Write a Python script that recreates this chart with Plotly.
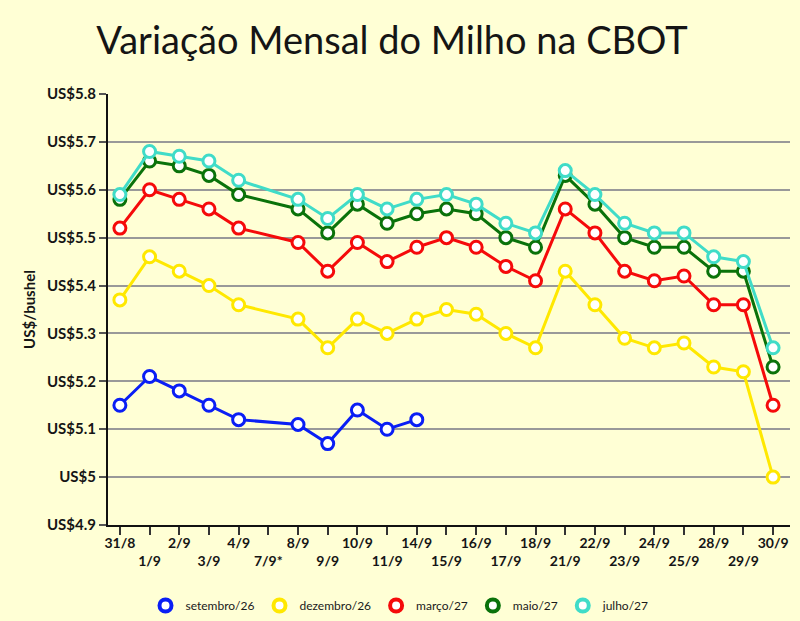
import plotly.graph_objects as go

categories = ["31/8", "1/9", "2/9", "3/9", "4/9", "7/9*", "8/9", "9/9", "10/9", "11/9",
              "14/9", "15/9", "16/9", "17/9", "18/9", "21/9", "22/9", "23/9", "24/9",
              "25/9", "28/9", "29/9", "30/9"]

setembro_26 = [5.15, 5.21, 5.18, 5.15, 5.12, None, 5.11, 5.07, 5.14, 5.10, 5.12,
               None, None, None, None, None, None, None, None, None, None, None, None]
dezembro_26 = [5.37, 5.46, 5.43, 5.40, 5.36, None, 5.33, 5.27, 5.33, 5.30, 5.33,
               5.35, 5.34, 5.30, 5.27, 5.43, 5.36, 5.29, 5.27, 5.28, 5.23, 5.22, 5.00]
marco_27 = [5.52, 5.60, 5.58, 5.56, 5.52, None, 5.49, 5.43, 5.49, 5.45, 5.48,
            5.50, 5.48, 5.44, 5.41, 5.56, 5.51, 5.43, 5.41, 5.42, 5.36, 5.36, 5.15]
maio_27 = [5.58, 5.66, 5.65, 5.63, 5.59, None, 5.56, 5.51, 5.57, 5.53, 5.55,
           5.56, 5.55, 5.50, 5.48, 5.63, 5.57, 5.50, 5.48, 5.48, 5.43, 5.43, 5.23]
julho_27 = [5.59, 5.68, 5.67, 5.66, 5.62, None, 5.58, 5.54, 5.59, 5.56, 5.58,
            5.59, 5.57, 5.53, 5.51, 5.64, 5.59, 5.53, 5.51, 5.51, 5.46, 5.45, 5.27]

series_names = ["setembro/26", "dezembro/26", "março/27", "maio/27", "julho/27"]
series_values = [setembro_26, dezembro_26, marco_27, maio_27, julho_27]
series_colors = ["#0A1EF5", "#FFE800", "#F50A0A", "#0A720A", "#40DCC8"]

y_ticks = [4.9, 5.0, 5.1, 5.2, 5.3, 5.4, 5.5, 5.6, 5.7, 5.8]
y_ticktext = ["US$4.9", "US$5", "US$5.1", "US$5.2", "US$5.3", "US$5.4",
              "US$5.5", "US$5.6", "US$5.7", "US$5.8"]

x_ticktext = [c if i % 2 == 0 else "<br>" + c for i, c in enumerate(categories)]

FONT = "Lato, Open Sans, sans-serif"
BG = "#FFFFD5"
TXT = "#151515"

fig = go.Figure()
for name, vals, col in zip(series_names, series_values, series_colors):
    fig.add_trace(go.Scatter(
        x=categories, y=vals, name=name, mode="lines+markers",
        connectgaps=True, showlegend=False, legendgroup=name,
        line=dict(color=col, width=3),
        marker=dict(symbol="circle", size=12, color="white",
                    line=dict(color=col, width=3)),
    ))
# legend entries (marker only, as in the reference legend)
for name, col in zip(series_names, series_colors):
    fig.add_trace(go.Scatter(
        x=[None], y=[None], name=name, mode="markers", legendgroup=name,
        marker=dict(symbol="circle", size=12, color="white",
                    line=dict(color=col, width=4)),
    ))

fig.update_layout(
    width=800, height=621,
    paper_bgcolor=BG, plot_bgcolor=BG,
    margin=dict(l=108, r=10, t=94, b=96),
    title=dict(text="Variação Mensal do Milho na CBOT", x=0.49, xanchor="center",
               xref="container", y=0.935, yanchor="middle",
               font=dict(family=FONT, size=38, color=TXT)),
    font=dict(family=FONT, color=TXT),
    showlegend=True,
    legend=dict(orientation="h", xref="container", x=0.5, xanchor="center",
                yref="container", y=0.025, yanchor="middle",
                font=dict(size=12, color="#1a1a1a"), bgcolor="rgba(0,0,0,0)",
                itemwidth=30, tracegroupgap=0),
    xaxis=dict(
        type="category", range=[-0.4, 22.57], automargin=False,
        tickmode="array", tickvals=categories, ticktext=x_ticktext,
        ticks="outside", ticklen=8, tickcolor="#333", tickwidth=1.5,
        ticklabelstandoff=-4,
        showline=True, linecolor="#111", linewidth=2,
        showgrid=False, zeroline=False,
        tickfont=dict(family=FONT, size=14, color=TXT, weight="bold"),
        tickangle=0,
    ),
    yaxis=dict(
        range=[4.9, 5.8], automargin=False,
        tickmode="array", tickvals=y_ticks, ticktext=y_ticktext,
        ticks="outside", ticklen=7, tickcolor="#555", tickwidth=1.5,
        showline=True, linecolor="#111", linewidth=2,
        showgrid=True, gridcolor="#999", gridwidth=1.5, zeroline=False,
        tickfont=dict(family=FONT, size=15, color=TXT, weight="bold"),
        title=dict(text="US$/bushel", standoff=8,
                   font=dict(family=FONT, size=15, color=TXT, weight="bold")),
    ),
)

fig.write_html("out.html", config={"displayModeBar": False},
               post_script="document.body.style.margin='0';document.body.style.background='" + BG + "';")
